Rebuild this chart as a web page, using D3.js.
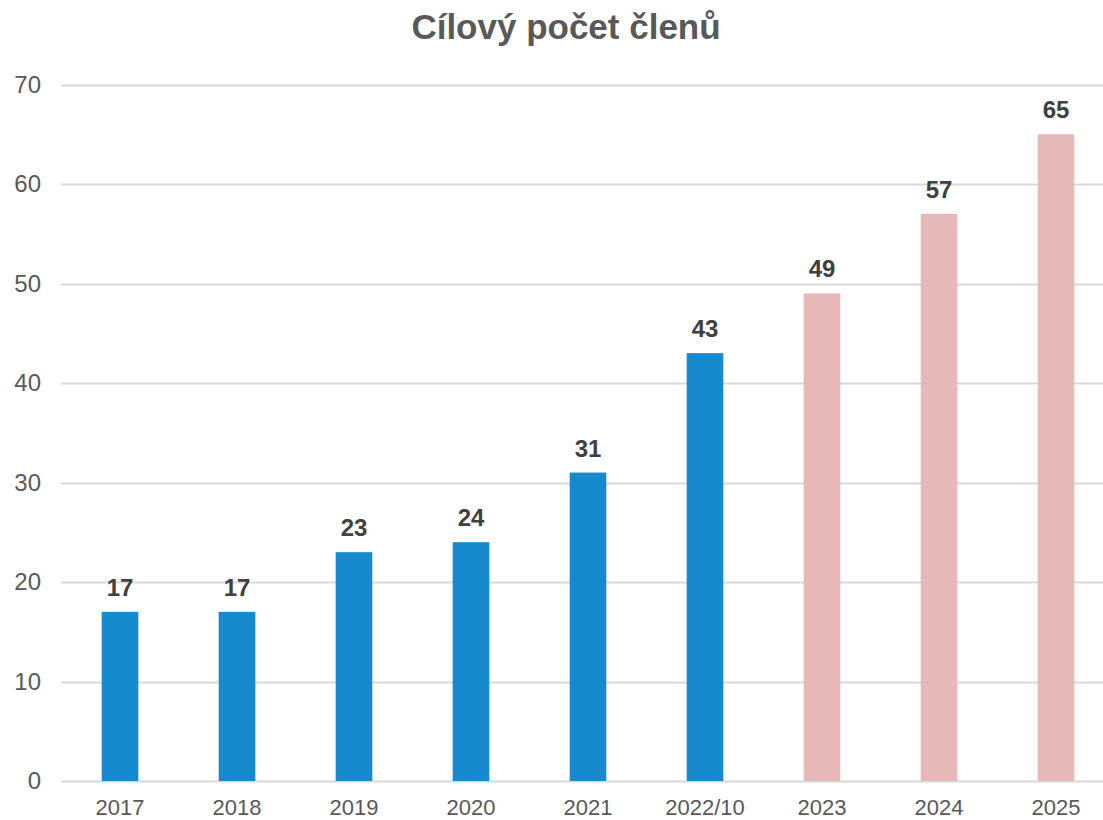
<!DOCTYPE html>
<html>
<head>
<meta charset="utf-8">
<script src="https://cdn.jsdelivr.net/npm/d3@7"></script>
<style>
  body { margin: 0; background: #fff; }
  text { font-family: "Liberation Sans", Arial, sans-serif; }
</style>
</head>
<body>
<script>
// data
const categories = ["2017", "2018", "2019", "2020", "2021", "2022/10", "2023", "2024", "2025"];
const values = [17, 17, 23, 24, 31, 43, 49, 57, 65];
const planned = [false, false, false, false, false, false, true, true, true];
const yTicks = [0, 10, 20, 30, 40, 50, 60, 70];

const width = 1103, height = 820;

const svg = d3.select('body')
    .append('svg')
    .attr('width', width)
    .attr('height', height);

const x = d3.scaleBand()
    .domain(categories)
    .range([61.5, 1114.5])
    .paddingInner(0.687)
    .paddingOuter(0.3435);

const y = d3.scaleLinear()
    .domain([0, 70])
    .range([781, 84.5]);

// title
svg.append('text')
    .attr('x', 566)
    .attr('y', 39)
    .attr('text-anchor', 'middle')
    .attr('font-size', 35)
    .attr('font-weight', 'bold')
    .attr('fill', '#595959')
    .text('Cílový počet členů');

// gridlines
svg.append('g')
    .selectAll('line')
    .data(yTicks)
    .enter()
    .append('line')
    .attr('x1', 61.5)
    .attr('x2', width)
    .attr('y1', d => Math.round(y(d)) + 0.5)
    .attr('y2', d => Math.round(y(d)) + 0.5)
    .attr('stroke', '#d9d9d9')
    .attr('stroke-width', 2);

// y labels
svg.append('g')
    .selectAll('text')
    .data(yTicks)
    .enter()
    .append('text')
    .attr('x', 41)
    .attr('y', d => y(d) + 8)
    .attr('text-anchor', 'end')
    .attr('font-size', 24)
    .attr('fill', '#595959')
    .text(d => d);

// bars
svg.append('g')
    .selectAll('rect')
    .data(values)
    .enter()
    .append('rect')
    .attr('x', (d, i) => x(categories[i]))
    .attr('width', x.bandwidth())
    .attr('y', d => y(d))
    .attr('height', d => y(0) - y(d))
    .attr('fill', (d, i) => planned[i] ? '#e6b8b7' : '#1789ce');

// value labels
svg.append('g')
    .selectAll('text')
    .data(values)
    .enter()
    .append('text')
    .attr('x', (d, i) => x(categories[i]) + x.bandwidth() / 2)
    .attr('y', d => y(d) - 16)
    .attr('text-anchor', 'middle')
    .attr('font-size', 24)
    .attr('font-weight', 'bold')
    .attr('fill', '#404040')
    .text(d => d);

// x labels
svg.append('g')
    .selectAll('text')
    .data(categories)
    .enter()
    .append('text')
    .attr('x', d => x(d) + x.bandwidth() / 2)
    .attr('y', 815)
    .attr('text-anchor', 'middle')
    .attr('font-size', 22)
    .attr('fill', '#595959')
    .text(d => d);
</script>
</body>
</html>
